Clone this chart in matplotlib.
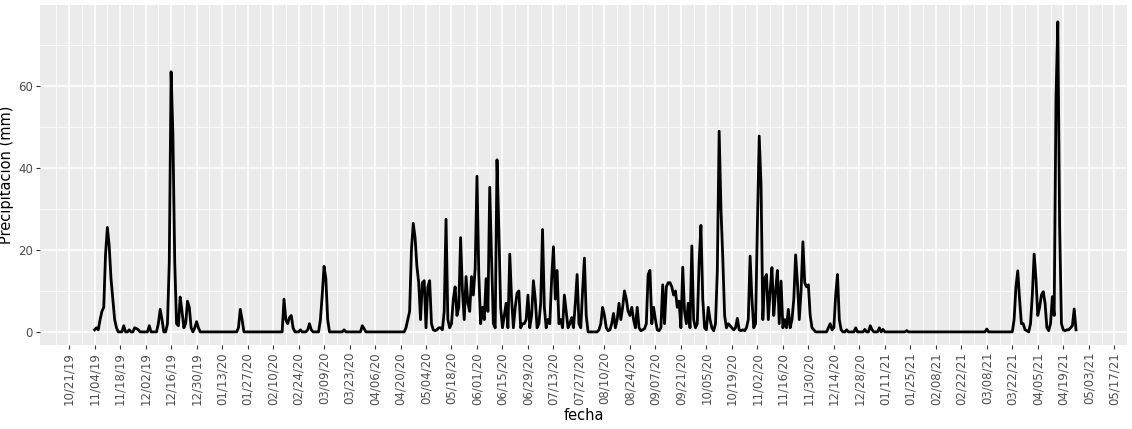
import numpy as np
import pandas as pd
import matplotlib
matplotlib.use("Agg")
import matplotlib.pyplot as plt
import matplotlib.dates as mdates

inicio = "2019-10-21"
primer_dia, ultimo_dia = 14, 553
lluvia = {
14:0.5,15:1,16:0.5,17:3,18:5,19:6,20:19,21:25.5,22:21,23:13,24:8,25:3,26:1,
30:1.5,33:0.5,36:1,37:0.8,38:0.5,44:1.5,49:2,50:5.5,51:3,54:2,55:17,56:63.5,57:48,58:17,59:2,
60:1.5,61:8.5,62:5,63:1,64:2,65:7.5,66:6,67:1,69:1,70:2.5,71:1,
93:1,94:5.5,95:3,118:8,119:3,120:2,121:3.5,122:4,123:1,127:0.5,131:0.5,132:2,133:0.5,
138:3,139:9,140:16,141:13,142:3,151:0.5,161:1.5,162:0.8,
185:1,186:3,187:5,188:20,189:26.5,190:23,191:16,192:12,193:3,194:12,195:12.5,196:1,197:11,198:12.5,199:2,
200:0.5,201:0.3,202:0.5,203:1,204:1,205:0.5,206:5,207:27.5,208:3,209:1,210:2,211:8,212:11,213:4,214:6,
215:23,216:10,217:3,218:13.5,219:7,220:5,221:13.5,222:9,223:15.5,224:38,225:14,226:2,227:6,228:3,229:13,
230:5,231:35.3,232:18,233:2,234:1,235:42,236:25,237:6,238:1,239:4,240:7,241:1,242:19,243:8,244:1,245:6,
246:9.5,247:10,248:1,249:2,250:2,251:3,252:9,253:1,254:4,255:12.5,256:8,257:1,258:2,259:7,260:25,261:6,
262:1,263:3,264:2,265:13,266:20.8,267:8,268:15,269:2,270:3,271:1,272:9,273:5,274:1,275:2,276:3.5,277:1,
278:7,279:14,280:2,281:1,282:10,283:18,284:4,291:0.5,292:2,293:6,294:4,295:1,296:0.3,297:0.5,298:2,
299:4.5,300:1,301:3,302:7,303:3,304:6,305:10,306:8,307:5,308:4,309:6,310:3,311:1,312:6,313:1,314:0.3,
315:0.5,316:0.8,317:2,318:14,319:15,320:2,321:6,322:3,323:0.5,324:0.3,325:1,326:11.5,327:2,328:11,329:12,
330:12,331:11,332:9,333:10,334:6,335:7.5,336:1,337:15.8,338:5,339:2,340:7,341:1,342:21,343:3,344:1,345:2,
346:17,347:26,348:8,349:1,350:0.5,351:6,352:3,353:1,354:0.3,355:2,356:15,357:49,358:30,359:18,360:4,361:1,
362:2,363:1.5,364:1,365:0.5,366:1,367:3.3,368:0.5,369:0.3,370:0.5,371:0.3,372:1,373:3,374:18.5,375:8,376:1,
377:2,378:26,379:47.8,380:36,381:3,382:13,383:14,384:3,385:10,386:15.7,387:4,388:10,389:15,390:2,391:12.4,
392:1,393:3,394:1,395:5.5,396:1,397:3,398:8,399:18.8,400:12,401:3,402:10,403:22,404:12,405:11,406:11.5,
407:4,408:1,409:0.5,417:1,418:2,419:0.5,420:1,421:9,422:14,423:3,424:0.5,427:0.5,432:1,437:0.6,440:1.5,
441:0.5,445:1,447:0.6,460:0.3,504:0.7,
519:3,520:11,521:14.9,522:8,523:2,524:2,525:0.5,526:0.3,528:2,529:9,530:19,531:13,532:4,533:6,534:9,
535:9.8,536:7,537:1,538:0.3,539:2,540:8.6,541:4,542:57,543:75.7,544:25.7,545:2,546:0.5,547:0.3,548:0.5,
549:0.5,550:1,551:1.5,552:5.6,553:0.5,
}

base = pd.Timestamp(inicio)
dias = np.arange(primer_dia, ultimo_dia + 1)
fechas = base + pd.to_timedelta(dias, unit="D")
valores = np.array([lluvia.get(int(d), 0.0) for d in dias])

fig = plt.figure(figsize=(11.32, 4.29), dpi=100)
ax = fig.add_axes([40/1132, 1-345/429, 1087/1132, 340/429])
ax.set_facecolor("#EBEBEB")
for s in ax.spines.values():
    s.set_visible(False)

majors = pd.date_range(inicio, "2021-05-17", freq="14D")
minors = majors[:-1] + pd.Timedelta(days=7)
minors = minors.append(pd.DatetimeIndex([majors[0] - pd.Timedelta(days=7), majors[-1] + pd.Timedelta(days=7)]))
ax.set_xticks(mdates.date2num(majors))
ax.set_xticks(mdates.date2num(minors), minor=True)
ax.set_xticklabels([d.strftime("%m/%d/%y") for d in majors], rotation=90)
ax.set_yticks([0, 20, 40, 60])
ax.set_yticks([10, 30, 50, 70], minor=True)
ax.grid(which="major", color="white", lw=1.1)
ax.grid(which="minor", color="white", lw=0.55)
ax.set_axisbelow(True)
ax.tick_params(which="major", colors="#333333", labelcolor="#4D4D4D", labelsize=8.5, length=3, width=0.8, pad=2)
ax.tick_params(which="minor", length=0)

ax.plot(fechas, valores, color="black", lw=2.0)
ax.set_xlim(base - pd.Timedelta(days=16), base + pd.Timedelta(days=581))
ax.set_ylim(-3.2, 79.8)
ax.set_xlabel("fecha", fontsize=10.5, labelpad=2)
ax.set_ylabel("Precipitación (mm)", fontsize=10.5, labelpad=3)
fig.savefig("out.png", dpi=100)
